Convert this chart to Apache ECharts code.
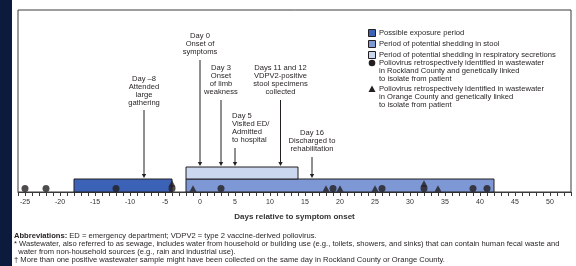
<!DOCTYPE html>
<html>
<head>
<meta charset="utf-8">
<script src="https://cdn.jsdelivr.net/npm/echarts@6/dist/echarts.min.js"></script>
<style>
  html, body { margin: 0; padding: 0; background: #fff; }
  #main { width: 576px; height: 266px; }
</style>
</head>
<body>
<div id="main"></div>
<script>
// periods (days relative to symptom onset)
var periodNames = ['Possible exposure period', 'Period of potential shedding in stool', 'Period of potential shedding in respiratory secretions'];
var periodStart = [-18, -2, -2];
var periodEnd = [-4, 42, 14];
var periodRow = [0, 0, 1];

// wastewater detections
var rocklandDays = [-25, -22, -12, -4, 3, 19, 26, 32, 39, 41];
var orangeDays = [-4, -1, 18, 20, 25, 32, 34];

// timeline events
var eventDays = [-8, 0, 3, 5, 11.5, 16];
var eventLabels = [
  'Day \u20138\nAttended\nlarge\ngathering',
  'Day 0\nOnset of\nsymptoms',
  'Day 3\nOnset\nof limb\nweakness',
  'Day 5\nVisited ED/\nAdmitted\nto hospital',
  'Days 11 and 12\nVDPV2-positive\nstool specimens\ncollected',
  'Day 16\nDischarged to\nrehabilitation'
];
var tickLabels = [-25, -20, -15, -10, -5, 0, 5, 10, 15, 20, 25, 30, 35, 40, 45, 50];

// layout for the event labels (pixels): text top, arrow top, arrow tip, align
var eventLayout = [
  [75, 110, 178, 'center'],
  [32, 60, 166, 'center'],
  [64, 100, 166, 'center'],
  [112, 148, 166, 'left'],
  [64, 100, 166, 'center'],
  [129, 157, 178, 'center']
];

var FONT = 'Liberation Sans';
var INK = '#231f20';
var periodColors = ['#3b62b6', '#7d98d5', '#cbd7ef'];

var myChart = echarts.init(document.getElementById('main'));

var periodData = [];
for (var i = 0; i < periodNames.length; i++) {
  periodData.push([periodStart[i], periodEnd[i], periodRow[i], i]);
}

// stacked markers when both counties detected on the same day
var rocklandData = rocklandDays.map(function (d) { return [d, 3.5]; });
var orangeData = orangeDays.map(function (d) {
  return [d, rocklandDays.indexOf(d) >= 0 ? 8.5 : 3.5];
});

var eventData = eventDays.map(function (d, i) { return [d, 0, i]; });

var legendGraphics = [];
var ly = [33, 44, 55];
for (var k = 0; k < 3; k++) {
  legendGraphics.push({
    type: 'rect', shape: { x: 368.5, y: ly[k] - 3.5, width: 7, height: 7 },
    style: { fill: periodColors[k], stroke: INK, lineWidth: 1 }
  });
  legendGraphics.push({
    type: 'text', x: 379, y: ly[k],
    style: { text: periodNames[k], font: '7.6px "' + FONT + '"', fill: INK, verticalAlign: 'middle' }
  });
}
legendGraphics.push({ type: 'circle', shape: { cx: 372, cy: 63, r: 3.3 }, style: { fill: INK } });
legendGraphics.push({
  type: 'text', x: 379, y: 59,
  style: { text: 'Poliovirus retrospectively identified in wastewater\nin Rockland County and genetically linked\nto isolate from patient',
    font: '7.6px "' + FONT + '"', lineHeight: 8, fill: INK, verticalAlign: 'top' }
});
legendGraphics.push({ type: 'polygon', shape: { points: [[372, 85.5], [375.5, 92], [368.5, 92]] }, style: { fill: INK } });
legendGraphics.push({
  type: 'text', x: 379, y: 85,
  style: { text: 'Poliovirus retrospectively identified in wastewater\nin Orange County and genetically linked\nto isolate from patient',
    font: '7.6px "' + FONT + '"', lineHeight: 8, fill: INK, verticalAlign: 'top' }
});

var footnotes = [
  { y: 232, text: '{b|Abbreviations:} ED = emergency department; VDPV2 = type 2 vaccine-derived poliovirus.' },
  { y: 240, text: '* Wastewater, also referred to as sewage, includes water from household or building use (e.g., toilets, showers, and sinks) that can contain human fecal waste and' },
  { y: 248, text: '  water from non-household sources (e.g., rain and industrial use).' },
  { y: 256, text: '\u2020 More than one positive wastewater sample might have been collected on the same day in Rockland County or Orange County.' }
];
var footGraphics = footnotes.map(function (f) {
  return {
    type: 'text', x: 14, y: f.y,
    style: {
      text: f.text, font: '7.6px "' + FONT + '"', fill: INK, verticalAlign: 'top',
      rich: { b: { fontWeight: 'bold', fontSize: 7.6, fontFamily: FONT, fill: INK } }
    }
  };
});

var option = {
  animation: false,
  backgroundColor: '#ffffff',
  grid: {
    left: 18, right: 5, top: 10, bottom: 74,
    show: true, borderColor: '#3a3a3a', borderWidth: 1, backgroundColor: 'transparent'
  },
  xAxis: {
    type: 'value', min: -26, max: 53, interval: 1,
    name: 'Days relative to symptom onset', nameLocation: 'middle', nameGap: 21,
    nameTextStyle: { fontFamily: FONT, fontSize: 8, fontWeight: 'bold', color: '#333' },
    axisLine: { show: true, lineStyle: { color: '#3a3a3a', width: 1 } },
    axisTick: { show: true, length: 4, lineStyle: { color: '#3a3a3a', width: 1 } },
    splitLine: { show: false },
    axisLabel: {
      fontFamily: FONT, fontSize: 7, color: '#333', margin: 7, showMinLabel: true, showMaxLabel: true,
      formatter: function (v) { return tickLabels.indexOf(v) >= 0 ? String(v) : ''; }
    }
  },
  yAxis: { type: 'value', min: 0, max: 182, show: false },
  graphic: [
    { type: 'rect', shape: { x: 0, y: 0, width: 12, height: 266 }, style: { fill: '#0c1a3d' } }
  ].concat(legendGraphics).concat(footGraphics),
  series: [
    {
      type: 'custom', name: 'periods', data: periodData, z: 2,
      renderItem: function (params, api) {
        var row = api.value(2);
        var y0 = row === 0 ? 0 : 13;
        var y1 = row === 0 ? 13 : 25;
        var a = api.coord([api.value(0), y0]);
        var b = api.coord([api.value(1), y1]);
        return {
          type: 'rect',
          shape: { x: a[0], y: b[1], width: b[0] - a[0], height: a[1] - b[1] },
          style: { fill: periodColors[api.value(3)], stroke: INK, lineWidth: 1 }
        };
      }
    },
    {
      type: 'scatter', name: 'Rockland', data: rocklandData, symbol: 'circle', symbolSize: 7,
      itemStyle: { color: INK }, z: 4
    },
    {
      type: 'scatter', name: 'Orange', data: orangeData, symbol: 'triangle', symbolSize: [7, 6.5],
      itemStyle: { color: INK }, z: 5
    },
    {
      type: 'custom', name: 'events', data: eventData, z: 6,
      renderItem: function (params, api) {
        var idx = api.value(2);
        var lay = eventLayout[idx];
        var x = api.coord([api.value(0), 0])[0];
        var tx = lay[3] === 'left' ? x - 3 : x;
        return {
          type: 'group',
          children: [
            {
              type: 'text', x: tx, y: lay[0],
              style: { text: eventLabels[idx], font: '7.6px "' + FONT + '"', lineHeight: 8,
                fill: INK, align: lay[3], verticalAlign: 'top' }
            },
            {
              type: 'line', shape: { x1: x, y1: lay[1], x2: x, y2: lay[2] - 3 },
              style: { stroke: INK, lineWidth: 1 }
            },
            {
              type: 'polygon', shape: { points: [[x - 2.2, lay[2] - 4], [x + 2.2, lay[2] - 4], [x, lay[2]]] },
              style: { fill: INK }
            }
          ]
        };
      }
    }
  ]
};

myChart.setOption(option);
</script>
</body>
</html>
